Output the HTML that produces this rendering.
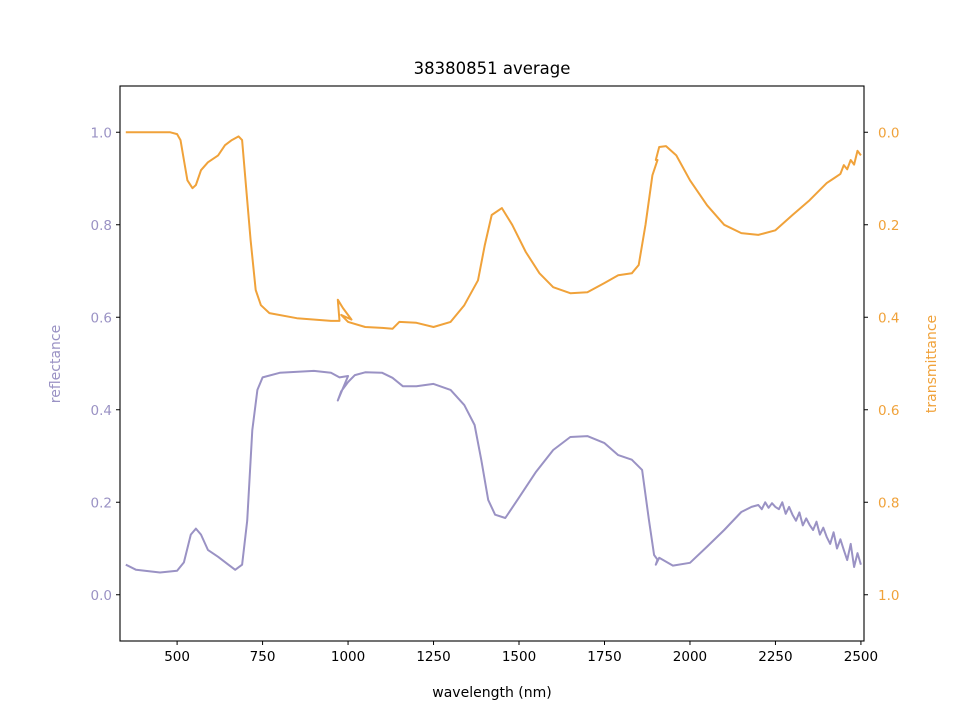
<!DOCTYPE html>
<html><head><meta charset="utf-8"><style>
body{margin:0;background:#fff}
svg{display:block;font-family:"DejaVu Sans","Liberation Sans",sans-serif}
</style></head><body>
<svg id="chart" width="960" height="720">
<text x="492" y="74" text-anchor="middle" font-size="16.5">38380851 average</text>
<g id="plot"></g>
<rect x="120" y="86" width="744" height="555" fill="none" stroke="#000" stroke-width="1.1"/>
<g id="axes"></g>
<text x="492" y="697" text-anchor="middle" font-size="14">wavelength (nm)</text>
<text transform="translate(60,364) rotate(-90)" text-anchor="middle" font-size="14" fill="#9a92c4">reflectance</text>
<text transform="translate(936,364) rotate(-90)" text-anchor="middle" font-size="14" fill="#f0a23a">transmittance</text>
</svg>
<script>
const xTicks=[500,750,1000,1250,1500,1750,2000,2250,2500];
const leftTicks=[0.0,0.2,0.4,0.6,0.8,1.0];
const rightTicks=[0.0,0.2,0.4,0.6,0.8,1.0];
const reflWl=[350,380,450,500,520,540,555,570,590,620,650,670,690,705,720,735,750,800,900,950,975,1000,970,980,1000,1020,1050,1100,1130,1160,1200,1250,1300,1340,1370,1390,1410,1430,1460,1500,1550,1600,1650,1700,1750,1790,1830,1860,1880,1895,1905,1900,1910,1950,2000,2050,2100,2150,2180,2200,2210,2220,2230,2240,2250,2260,2270,2280,2290,2300,2310,2320,2330,2340,2350,2360,2370,2380,2390,2400,2410,2420,2430,2440,2450,2460,2470,2480,2490,2500];
const reflVal=[0.065,0.054,0.048,0.052,0.07,0.13,0.143,0.13,0.097,0.082,0.065,0.054,0.065,0.16,0.356,0.443,0.47,0.48,0.484,0.48,0.47,0.473,0.42,0.44,0.46,0.475,0.481,0.48,0.469,0.451,0.451,0.456,0.443,0.41,0.367,0.29,0.205,0.173,0.166,0.21,0.266,0.313,0.341,0.343,0.328,0.302,0.292,0.27,0.162,0.086,0.076,0.065,0.08,0.063,0.069,0.104,0.14,0.179,0.19,0.194,0.185,0.2,0.188,0.198,0.19,0.185,0.2,0.175,0.19,0.173,0.16,0.178,0.15,0.165,0.151,0.14,0.158,0.13,0.145,0.125,0.11,0.135,0.1,0.12,0.097,0.075,0.11,0.06,0.09,0.065];
const transWl=[350,400,450,480,500,510,520,530,545,555,570,590,620,640,660,680,690,700,715,730,745,770,850,950,975,970,985,1010,980,1000,1050,1100,1130,1150,1200,1250,1300,1340,1380,1400,1420,1450,1480,1520,1560,1600,1650,1700,1750,1790,1830,1850,1870,1890,1905,1900,1910,1930,1960,2000,2050,2100,2150,2200,2250,2300,2350,2400,2420,2440,2450,2460,2470,2480,2490,2500];
const transVal=[0.0,0.0,0.0,0.0,0.004,0.017,0.06,0.104,0.121,0.114,0.082,0.065,0.05,0.028,0.017,0.009,0.017,0.104,0.233,0.341,0.374,0.391,0.402,0.408,0.408,0.362,0.38,0.405,0.395,0.41,0.421,0.423,0.425,0.41,0.412,0.421,0.41,0.374,0.32,0.244,0.179,0.164,0.2,0.259,0.305,0.335,0.348,0.346,0.326,0.309,0.305,0.287,0.2,0.093,0.06,0.06,0.032,0.03,0.05,0.104,0.158,0.2,0.218,0.222,0.212,0.179,0.147,0.11,0.1,0.09,0.071,0.08,0.06,0.07,0.04,0.05];
const X0=120,X1=864,Y0=86,Y1=641,XMIN=333,XMAX=2509,YMIN=-0.1,YMAX=1.1;
const sx=w=>X0+(w-XMIN)/(XMAX-XMIN)*(X1-X0);
const syL=v=>Y1-(v-YMIN)/(YMAX-YMIN)*(Y1-Y0);
const syR=v=>Y0+(v-YMIN)/(YMAX-YMIN)*(Y1-Y0);
const NS="http://www.w3.org/2000/svg";
const plot=document.getElementById('plot'),axes=document.getElementById('axes');
function mk(t,a,p){const e=document.createElementNS(NS,t);for(const k in a)e.setAttribute(k,a[k]);p.appendChild(e);return e;}
function line(wl,vals,sy,color,name){
 const d=wl.map((w,i)=>(i?'L':'M')+sx(w).toFixed(1)+','+sy(vals[i]).toFixed(1)).join('');
 const p=mk('path',{d:d,fill:'none',stroke:color,'stroke-width':2,'stroke-linejoin':'round'},plot);
 
 
}
line(reflWl,reflVal,syL,'#9a92c4','reflectance-line');
line(transWl,transVal,syR,'#f0a23a','transmittance-line');
xTicks.forEach(t=>{const x=sx(t);
 const l=mk('line',{x1:x,x2:x,y1:Y1,y2:Y1+4,stroke:'#000'},axes);
 
 
 const tx=mk('text',{x:x,y:Y1+20,'text-anchor':'middle','font-size':13.5},axes);tx.textContent=t;
 
 
});
leftTicks.forEach(t=>{const y=syL(t);
 const l=mk('line',{x1:X0-4,x2:X0,y1:y,y2:y,stroke:'#000'},axes);
 
 
 const tx=mk('text',{x:X0-8,y:y+5,'text-anchor':'end','font-size':13.5,fill:'#9a92c4'},axes);tx.textContent=t.toFixed(1);
 
 
});
rightTicks.forEach(t=>{const y=syR(t);
 const l=mk('line',{x1:X1,x2:X1+4,y1:y,y2:y,stroke:'#000'},axes);
 
 
 const tx=mk('text',{x:X1+14,y:y+5,'text-anchor':'start','font-size':13.5,fill:'#f0a23a'},axes);tx.textContent=t.toFixed(1);
 
 
});
</script>
</body></html>
